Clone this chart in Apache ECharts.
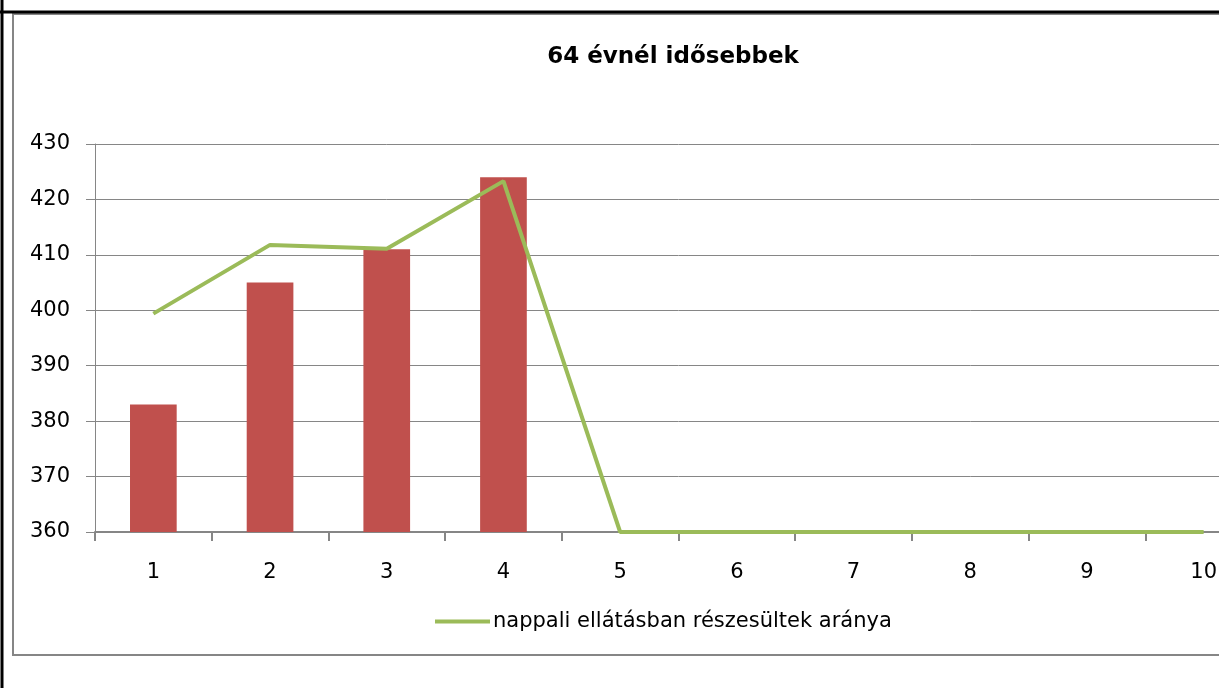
<!DOCTYPE html>
<html>
<head>
<meta charset="utf-8">
<script src="https://cdn.jsdelivr.net/npm/echarts@6/dist/echarts.min.js"></script>
<style>
  html, body { margin: 0; padding: 0; background: #fff; overflow: hidden; }
  #wrap { width: 1219px; height: 688px; overflow: hidden; }
  #chart { width: 1300px; height: 688px; }
</style>
</head>
<body>
<div id="wrap"><div id="chart"></div></div>
<script>
const categories = ['1', '2', '3', '4', '5', '6', '7', '8', '9', '10']
const barValues = [383, 405, 411, 424, null, null, null, null, null, null]
const lineValues = [399.4, 411.8, 411.1, 423.3, 360, 360, 360, 360, 360, 360]
const lineName = 'nappali ellátásban részesültek aránya'

const FONT = 'DejaVu Sans'
const GRAY = '#868686'

// the original picture is cut off on the right, so the chart is drawn wider and clipped
const chart = echarts.init(document.getElementById('chart'))

chart.setOption({
  animation: false,
  textStyle: { fontFamily: FONT },
  title: {
    text: '64 évnél idősebbek',
    left: 668,
    top: 41,
    textAlign: 'center',
    textStyle: { fontFamily: FONT, fontSize: 23, fontWeight: 'bold', color: '#000' }
  },
  graphic: [
    { type: 'rect', shape: { x: 13, y: 14, width: 1300, height: 641 },
      style: { fill: 'none', stroke: GRAY, lineWidth: 2 } },
    { type: 'line', shape: { x1: 0, y1: 12, x2: 1300, y2: 12 },
      style: { stroke: '#000', lineWidth: 3 } },
    { type: 'line', shape: { x1: 2, y1: 0, x2: 2, y2: 688 },
      style: { stroke: '#000', lineWidth: 3 } }
  ],
  legend: {
    left: 430,
    top: 606,
    itemWidth: 55,
    itemHeight: 4,
    icon: 'rect',
    itemGap: 4,
    textStyle: { fontFamily: FONT, fontSize: 21, color: '#000', padding: [0, 0, 0, -2] },
    data: [lineName]
  },
  grid: {
    left: 95,
    top: 144,
    width: 1167,
    height: 388,
    containLabel: false
  },
  xAxis: {
    type: 'category',
    data: categories,
    axisLine: { lineStyle: { color: GRAY, width: 2 } },
    axisTick: { show: true, length: 9, lineStyle: { color: GRAY, width: 2 } },
    axisLabel: { color: '#000', fontSize: 21, margin: 30 },
    splitLine: { show: false }
  },
  yAxis: {
    type: 'value',
    min: 360,
    max: 430,
    interval: 10,
    axisLine: { show: true, lineStyle: { color: GRAY, width: 1 } },
    axisTick: { show: true, length: 9, lineStyle: { color: GRAY } },
    axisLabel: { color: '#000', fontSize: 21, margin: 25 },
    splitLine: { lineStyle: { color: GRAY, width: 1 } }
  },
  series: [
    {
      name: 'bars',
      type: 'bar',
      data: barValues,
      barWidth: '40%',
      itemStyle: { color: '#C0504D' }
    },
    {
      name: lineName,
      type: 'line',
      data: lineValues,
      symbol: 'none',
      z: 5,
      lineStyle: { color: '#9BBB59', width: 4 },
      itemStyle: { color: '#9BBB59' }
    }
  ]
})
</script>
</body>
</html>
